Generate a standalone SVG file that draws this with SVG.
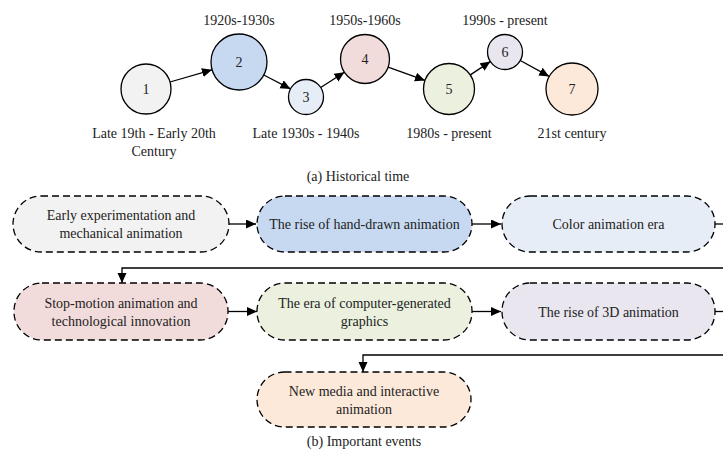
<svg xmlns="http://www.w3.org/2000/svg" width="723" height="450" viewBox="0 0 723 450">
<style>
text{font-family:"Liberation Serif","Times New Roman",serif;font-size:14px;fill:#222;text-anchor:middle}
.c{stroke:#000;stroke-width:1.3}
.b{stroke:#000;stroke-width:1.3;stroke-dasharray:7 4}
.l{fill:none;stroke:#000;stroke-width:1.3}
</style>
<defs>
<marker id="ah" markerUnits="userSpaceOnUse" markerWidth="12" markerHeight="10" refX="10" refY="4.5" orient="auto">
<path d="M0,0 L10,4.5 L0,9 Z" fill="#000"/>
</marker>
</defs>
<rect width="723" height="450" fill="#fff"/>
<g id="connectors">
<line class="l" x1="170" y1="82" x2="212" y2="69.8" marker-end="url(#ah)"/>
<line class="l" x1="263.8" y1="75" x2="290.5" y2="88.9" marker-end="url(#ah)"/>
<line class="l" x1="320.7" y1="87.5" x2="344.4" y2="72.3" marker-end="url(#ah)"/>
<line class="l" x1="388.1" y1="67.2" x2="425" y2="80.4" marker-end="url(#ah)"/>
<line class="l" x1="470.3" y1="74.9" x2="490.4" y2="61.6" marker-end="url(#ah)"/>
<line class="l" x1="520.3" y1="60.5" x2="549.2" y2="76.4" marker-end="url(#ah)"/>
<line class="l" x1="229" y1="224" x2="256" y2="224" marker-end="url(#ah)"/>
<line class="l" x1="472" y1="224" x2="501" y2="224" marker-end="url(#ah)"/>
<line class="l" x1="715" y1="224" x2="730" y2="224"/>
<polyline class="l" points="730,268 122,268 122,283" marker-end="url(#ah)"/>
<line class="l" x1="228" y1="311.5" x2="257" y2="311.5" marker-end="url(#ah)"/>
<line class="l" x1="472" y1="311.5" x2="501" y2="311.5" marker-end="url(#ah)"/>
<line class="l" x1="715" y1="311.5" x2="730" y2="311.5"/>
<polyline class="l" points="730,355 363,355 363,372" marker-end="url(#ah)"/>
</g>
<g id="t1"><circle class="c" cx="146" cy="89" r="25" fill="#f2f2f2"/><text x="146" y="94">1</text><text x="154" y="138">Late 19th - Early 20th</text><text x="154" y="156">Century</text></g>
<g id="t2"><circle class="c" cx="239" cy="62" r="28" fill="#c6d9f1"/><text x="239" y="67">2</text><text x="239" y="25">1920s-1930s</text></g>
<g id="t3"><circle class="c" cx="306" cy="97" r="17.5" fill="#e7edf6"/><text x="306" y="102">3</text><text x="306" y="138">Late 1930s - 1940s</text></g>
<g id="t4"><circle class="c" cx="365" cy="59" r="24.5" fill="#f2dcdb"/><text x="365" y="64">4</text><text x="365" y="25">1950s-1960s</text></g>
<g id="t5"><circle class="c" cx="449" cy="89" r="25.5" fill="#ebf1de"/><text x="449" y="94">5</text><text x="449" y="138">1980s - present</text></g>
<g id="t6"><circle class="c" cx="505" cy="52" r="17.5" fill="#e9e6f0"/><text x="505" y="57">6</text><text x="505" y="25">1990s - present</text></g>
<g id="t7"><circle class="c" cx="572" cy="89" r="26" fill="#fde9d9"/><text x="572" y="94">7</text><text x="572" y="138">21st century</text></g>
<text x="358" y="181">(a) Historical time</text>
<g id="e1"><rect class="b" x="13" y="196" width="216" height="56" rx="28" fill="#f2f2f2"/><text x="121" y="220">Early experimentation and</text><text x="121" y="238">mechanical animation</text></g>
<g id="e2"><rect class="b" x="257" y="196" width="215" height="56" rx="28" fill="#c6d9f1"/><text x="364.5" y="229">The rise of hand-drawn animation</text></g>
<g id="e3"><rect class="b" x="502" y="196" width="213" height="56" rx="28" fill="#e7edf6"/><text x="608.5" y="229">Color animation era</text></g>
<g id="e4"><rect class="b" x="14" y="283" width="214" height="57" rx="28" fill="#f2dcdb"/><text x="121" y="307.5">Stop-motion animation and</text><text x="121" y="325.5">technological innovation</text></g>
<g id="e5"><rect class="b" x="257" y="283" width="215" height="57" rx="28" fill="#ebf1de"/><text x="364.5" y="307.5">The era of computer-generated</text><text x="364.5" y="325.5">graphics</text></g>
<g id="e6"><rect class="b" x="502" y="283" width="213" height="57" rx="28" fill="#e9e6f0"/><text x="608.5" y="316.5">The rise of 3D animation</text></g>
<g id="e7"><rect class="b" x="257" y="372" width="214" height="55" rx="27.5" fill="#fde9d9"/><text x="364" y="395.5">New media and interactive</text><text x="364" y="413.5">animation</text></g>
<text x="364" y="446">(b) Important events</text>
</svg>
